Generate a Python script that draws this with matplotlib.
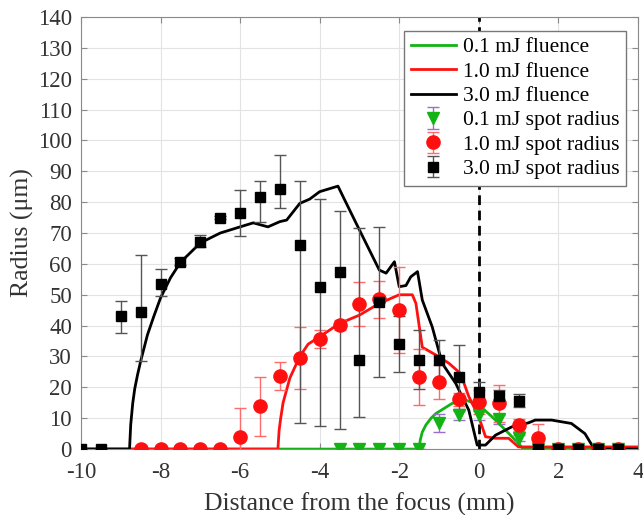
import numpy as np
import matplotlib.pyplot as plt

plt.rcParams['font.family'] = ['Liberation Serif', 'DejaVu Serif']
plt.rcParams['axes.unicode_minus'] = False

# fluence curves
x_f01 = [-10, -1.5, -1.47, -1.42, -1.33, -1.2, -1.08, -0.67, -0.33, 0, 0.33, 0.67, 1.0, 1.1, 4]
y_f01 = [0, 0, 3, 5.5, 7.8, 10, 11.5, 14.8, 15.9, 14.3, 10.5, 6.2, 1.8, 0.3, 0.3]

x_f10 = [-10, -5.05, -5.02, -4.98, -4.92, -4.75, -4.5, -4.29, -4, -3.5, -3, -2.5, -2, -1.67,
         -1.58, -1.42, -1.08, -0.75, -0.46, -0.25, 0, 0.17, 0.42, 0.75, 1.0, 4]
y_f10 = [0, 0, 6, 10, 15, 23, 30, 34, 36.4, 40.7, 43.4, 47.2, 50, 50,
         47.2, 33, 30.5, 27.8, 24.5, 17, 10.5, 4, 3.5, 3.5, 0.7, 0.7]

x_f30 = [-10, -8.78, -8.75, -8.7, -8.65, -8.58, -8.5, -8.33, -8.17, -8, -7.75, -7.5, -7,
         -6.5, -6, -5.67, -5.3, -5, -4.83, -4.5, -4.25, -4, -3.54, -3.37, -3, -2.75, -2.5,
         -2.33, -2.12, -2, -1.83, -1.71, -1.54, -1.42, -1.17, -0.92, -0.58, -0.25, -0.04,
         0.17, 0.42, 0.83, 1.25, 1.42, 1.83, 2.33, 2.67, 2.83, 2.95, 4]
y_f30 = [0, 0, 8, 14.8, 19.5, 24, 28.5, 37, 43, 49, 55.5, 60.5, 66.8,
         70, 72, 73.3, 72, 73.7, 74.2, 79.6, 81, 83.4, 85.2, 80.7, 71, 64.5, 58,
         57, 60.7, 52.6, 53, 55.8, 57.5, 48.3, 39.6, 27.8, 21.3, 12.6, 1.3,
         1.3, 4.5, 7.2, 8.5, 9.4, 9.4, 8.3, 5, 1.6, 0, 0]

# measured spot radius
x_s01 = [-3.5, -3, -2.5, -2, -1.5, -1, -0.5, 0, 0.5, 1, 1.5, 2, 2.5, 3, 3.5]
y_s01 = [0, 0, 0, 0, 0, 8.5, 11, 11, 9.6, 3.5, 0, 0, 0, 0, 0]
e_s01 = [0, 0, 0, 0, 0, 3, 1.5, 1.5, 1.5, 1, 0, 0, 0, 0, 0]

x_s10 = [-8.5, -8, -7.5, -7, -6.5, -6, -5.5, -5, -4.5, -4, -3.5, -3, -2.5, -2,
         -1.5, -1, -0.5, 0, 0.5, 1, 1.5, 2, 2.5, 3, 3.5]
y_s10 = [0, 0, 0, 0, 0, 3.8, 13.9, 23.8, 29.6, 35.6, 40.2, 47, 48.5, 45,
         23.4, 21.6, 16.1, 15.3, 14.8, 7.8, 3.5, 0, 0, 0, 0]
e_s10 = [0, 0, 0, 0, 0, 9.6, 9.5, 4.5, 10, 3, 1.5, 7, 6, 14,
         9, 5.5, 2, 4, 6, 2, 4.5, 0, 0, 0, 0]

x_s30 = [-10, -9.5, -9, -8.5, -8, -7.5, -7, -6.5, -6, -5.5, -5, -4.5, -4, -3.5,
         -3, -2.5, -2, -1.5, -1, -0.5, 0, 0.5, 1, 1.5, 2, 2.5, 3, 3.5]
y_s30 = [0, 0, 43, 44.3, 53.5, 60.7, 67.2, 75, 76.4, 81.6, 84.3, 66, 52.6, 57.5,
         28.8, 47.7, 34, 29, 28.9, 23.4, 18.6, 17.3, 15.7, 0, 0, 0, 0, 0]
lo_s30 = [0, 0, 5.5, 15.7, 4, 1.1, 1.7, 0.5, 7.4, 7.9, 6.3, 57.6, 45.1, 51,
          18.3, 24.3, 9, 9.5, 6.5, 10.3, 3, 2, 2, 0, 0, 0, 0, 0]
hi_s30 = [0, 0, 5, 18.7, 5, 1.3, 2.1, 0.5, 7.6, 5.4, 11, 21, 28.4, 19.5,
          42.8, 24.3, 9, 9.5, 6.5, 10.3, 3, 2, 2, 0, 0, 0, 0, 0]

fig = plt.figure(figsize=(6.43, 5.15), dpi=100)
ax = fig.add_axes([0.126, 0.128, 0.866, 0.839])

green = '#13b313'
red = '#ff1010'

ax.axvline(0, color='black', lw=2, ls=(0, (3.5, 2)), zorder=1.5)

ax.plot(x_f01, y_f01, color=green, lw=2, label='0.1 mJ fluence', zorder=2)
ax.plot(x_f10, y_f10, color=red, lw=2, label='1.0 mJ fluence', zorder=2)
ax.plot(x_f30, y_f30, color='black', lw=2, label='3.0 mJ fluence', zorder=2)

ax.errorbar(x_s01, y_s01, yerr=e_s01, fmt='v', color=green, ms=9, mec=green,
            ecolor='#9b6fd0', elinewidth=1, capsize=4, label='0.1 mJ spot radius', zorder=3)
ax.errorbar(x_s10, y_s10, yerr=e_s10, fmt='o', color=red, ms=9.5, mec=red,
            ecolor='#ff6a6a', elinewidth=1, capsize=4, label='1.0 mJ spot radius', zorder=3)
ax.errorbar(x_s30, y_s30, yerr=[lo_s30, hi_s30], fmt='s', color='black', ms=7,
            ecolor='#555555', elinewidth=1, capsize=4, label='3.0 mJ spot radius', zorder=3)

ax.set_xlim(-10, 4)
ax.set_ylim(0, 140)
ax.set_xticks(np.arange(-10, 5, 2))
ax.set_yticks(np.arange(0, 141, 10))
ax.grid(True, color='#e3e3e3', lw=0.8)
ax.set_axisbelow(True)
for s in ax.spines.values():
    s.set_color('#8a8a8a')
ax.tick_params(direction='in', colors='#8a8a8a', labelcolor='#333333',
               labelsize=16.5, right=True, top=True, length=4)
ax.tick_params(axis='x', pad=9)
ax.tick_params(axis='y', pad=6.5)

ax.set_xlabel('Distance from the focus (mm)', fontsize=18.5, color='#333333', labelpad=7)
ax.set_ylabel('Radius (μm)', fontsize=18.5, color='#333333', labelpad=2.5)

leg = ax.legend(loc='upper right', bbox_to_anchor=(0.978, 0.968), fontsize=15.5,
                frameon=True, fancybox=False, edgecolor='#777777', framealpha=1,
                labelspacing=0.2, handlelength=2.1, handletextpad=0.3,
                borderpad=0.3, borderaxespad=0)
leg.get_frame().set_linewidth(1)
leg.set_zorder(5)

fig.savefig('out.png', dpi=100)
